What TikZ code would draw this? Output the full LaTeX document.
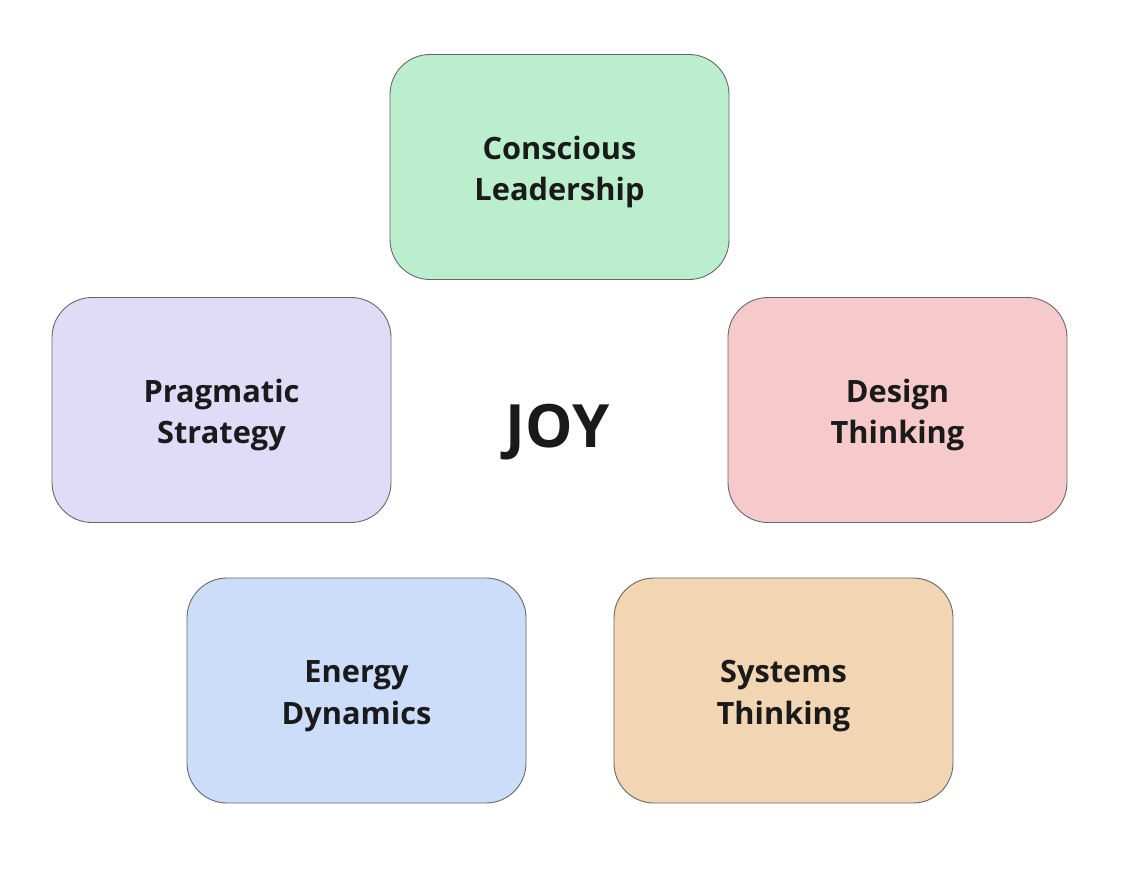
\documentclass[tikz,border=0pt]{standalone}
\usepackage{fontspec}
\setmainfont{Open Sans}
\usetikzlibrary{positioning}

\definecolor{cgreen}{RGB}{187,238,205}
\definecolor{clav}{RGB}{224,220,248}
\definecolor{cpink}{RGB}{246,202,202}
\definecolor{cblue}{RGB}{204,221,250}
\definecolor{cpeach}{RGB}{242,213,178}
\definecolor{ctext}{RGB}{26,26,26}
\newcommand{\twolines}[2]{\rule{0pt}{19pt}#1\\#2}

\begin{document}
\begin{tikzpicture}[b/.style={draw=black!60, line width=0.5pt, rounded corners=0.8cm, minimum width=6.78cm, minimum height=4.5cm, align=center, text=ctext, font=\fontsize{17.5}{23.8}\selectfont\bfseries}]
\useasboundingbox (0,0) rectangle (22.44,17.8);
\node[b, fill=cgreen] (lead) at (11.19,14.46) {\twolines{Conscious}{Leadership}};
\node[b, fill=clav] (prag) at (4.43,9.6) {\twolines{Pragmatic}{Strategy}};
\node[b, fill=cpink] (design) at (17.95,9.6) {\twolines{Design}{Thinking}};
\node[b, fill=cblue] (energy) at (7.13,3.99) {\twolines{Energy}{Dynamics}};
\node[b, fill=cpeach] (systems) at (15.67,3.99) {\twolines{Systems}{Thinking}};
\node[text=ctext, anchor=base, font=\fontsize{34}{40}\selectfont\bfseries] (joy) at (11.16,8.86) {JOY};
\end{tikzpicture}
\end{document}
